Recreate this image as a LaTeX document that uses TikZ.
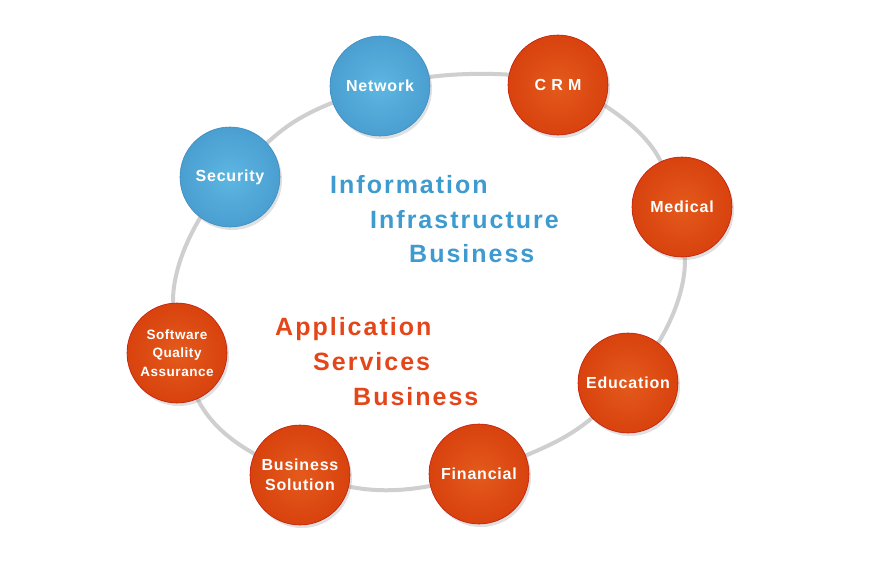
\documentclass[tikz,border=0pt]{standalone}
\usepackage{fontspec}
\setmainfont{Liberation Sans}
\usetikzlibrary{shadows}
\definecolor{oin}{HTML}{E45A1C}
\definecolor{oout}{HTML}{D8420E}
\definecolor{odk}{HTML}{C21D0C}
\definecolor{bin}{HTML}{5DB6E2}
\definecolor{bout}{HTML}{4A9FD0}
\definecolor{bdk}{HTML}{3C8CC0}
\definecolor{ringc}{HTML}{CFCFCF}
\definecolor{bluetxt}{HTML}{3E9BD0}
\definecolor{orgtxt}{HTML}{E4461A}
\tikzset{
  bubble/.style={circle, minimum size=100pt, inner sep=0pt, shading=radial,
    text=white, align=center,
    drop shadow={shadow xshift=2pt, shadow yshift=-3pt, opacity=0.2, fill=black!60},
    font=\fontsize{16}{20}\selectfont\bfseries\addfontfeatures{LetterSpace=5}},
  orangeb/.style={bubble, inner color=oin, outer color=oout, draw=odk, line width=0.6pt},
  blueb/.style={bubble, inner color=bin, outer color=bout, draw=bdk, line width=0.6pt},
  ringline/.style={draw=ringc, line width=4pt},
  bigtxt/.style={anchor=base west, inner sep=0pt,
    font=\fontsize{25}{30}\selectfont\bfseries\addfontfeatures{LetterSpace=8}},
  bluet/.style={bigtxt, text=bluetxt},
  oranget/.style={bigtxt, text=orgtxt}
}
\begin{document}
\begin{tikzpicture}[x=1pt, y=-1pt]
\useasboundingbox (0,0) rectangle (870,565);
\fill[white] (0,0) rectangle (870,565);
% ring
\draw[ringline] plot[smooth cycle, tension=0.55] coordinates {
  (400,82) (470,74) (540,79) (607,107) (660,160) (685,260) (660,340) (593,417)
  (527,455) (430,486) (351,487) (253,453) (198,400) (173,300)
  (200,218) (267,143) (320,108)};
% bubbles
\node[blueb] (network) at (380,86) {Network};
\node[orangeb] (crm) at (558,85) {C R M};
\node[blueb] (security) at (230,177) {Security};
\node[orangeb] (medical) at (682,207) {Medical};
\node[orangeb, font=\fontsize{13.5}{18.5}\selectfont\bfseries\addfontfeatures{LetterSpace=4}] (sqa) at (177,353) {Software\\Quality\\Assurance};
\node[orangeb] (education) at (628,383) {Education};
\node[orangeb] (bsol) at (300,475) {Business\\Solution};
\node[orangeb] (financial) at (479,474) {Financial};
% central texts
\node[bluet] (t1) at (330,193) {Information};
\node[bluet] (t2) at (370,228) {Infrastructure};
\node[bluet] (t3) at (409,262) {Business};
\node[oranget] (t4) at (275,335) {Application};
\node[oranget] (t5) at (313,370) {Services};
\node[oranget] (t6) at (353,405) {Business};
\end{tikzpicture}
\end{document}
